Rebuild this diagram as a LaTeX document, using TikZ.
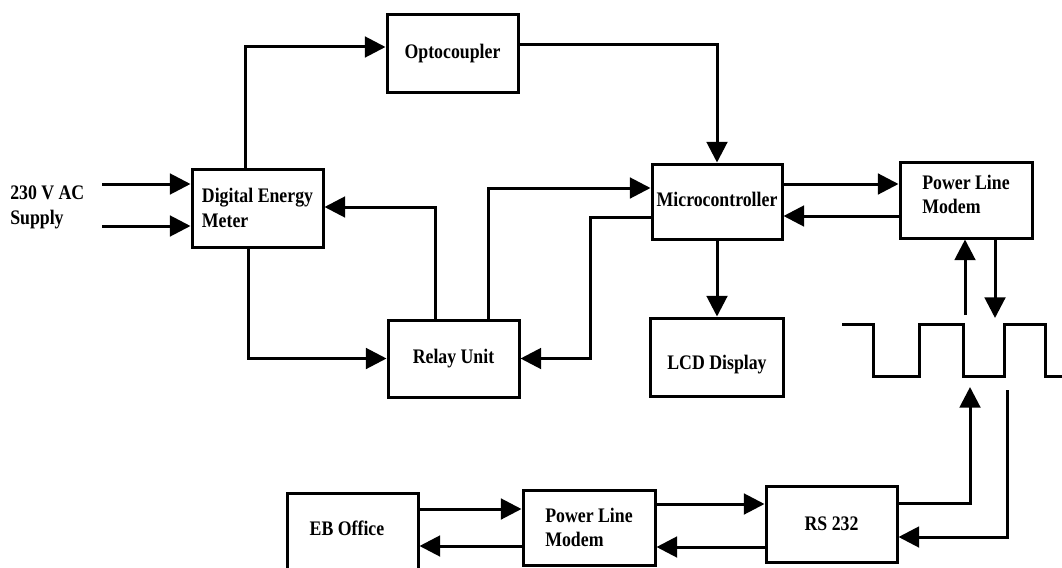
\documentclass[tikz,border=0pt]{standalone}
\usepackage{fontspec}
\newfontfamily\dgmfamily[FakeStretch=0.86]{Liberation Serif}
\newcommand\dgmfont{\dgmfamily\bfseries\fontsize{15.5}{18.4}\selectfont}
\usetikzlibrary{arrows.meta}
\def\pxu{0.75pt}
\begin{document}
\begin{tikzpicture}[x=0.75pt,y=-0.75pt,
  box/.style={draw, line width=2.25pt, inner sep=0pt, font=\dgmfont, align=center},
  lbl/.style={font=\dgmfont, inner sep=0pt},
  arr/.style={line width=2.25pt, -{Triangle[length=15.5pt,width=15.5pt]}},
  wave/.style={line width=2.25pt}]
\useasboundingbox (0,0) rectangle (1062,567);

% blocks
\node[box, minimum width=131*\pxu, minimum height=77*\pxu] (opto) at (452.5,53.5) {Optocoupler};
\node[box, align=left, minimum width=131*\pxu, minimum height=78*\pxu] (dem) at (257.5,208) {Digital Energy\\Meter};
\node[box, minimum width=130*\pxu, minimum height=75*\pxu] (micro) at (717,201.5) {\raisebox{1.5pt}[\height][\depth]{Microcontroller}};
\node[box, minimum width=132*\pxu, minimum height=76*\pxu] (plm) at (966,200) {\raisebox{2.5pt}[\height][\depth]{\begin{tabular}{@{}l@{}}Power Line\\Modem\end{tabular}}};
\node[box, minimum width=131*\pxu, minimum height=77*\pxu] (relay) at (453.5,358.5) {Relay Unit};
\node[box, minimum width=133*\pxu, minimum height=78*\pxu] (lcd) at (717,357) {\raisebox{-5.5pt}[\height][\depth]{LCD Display}};
\node[box, minimum width=131*\pxu, minimum height=87*\pxu] (eb) at (352.5,536.5) {};
\node[lbl] (ebtext) at (347,528) {EB Office};
\node[box, align=left, minimum width=132*\pxu, minimum height=75*\pxu] (plmb) at (589,527.5) {Power Line\\Modem};
\node[box, minimum width=131*\pxu, minimum height=76*\pxu] (rs) at (831.5,524) {RS 232};
\node[lbl, align=left, anchor=west] (supply) at (10,207.5) {230 V AC\\Supply};

% routing coordinates
\coordinate (in1) at (102,184);
\coordinate (in2) at (102,226);
\coordinate (k1) at (245,47);
\coordinate (k2) at (722,45);
\coordinate (k3) at (435,207);
\coordinate (k4) at (488,188);
\coordinate (k5) at (590,217);
\coordinate (k6) at (248,360);
\coordinate (k7) at (0,184);
\coordinate (k8) at (0,216);
\coordinate (w1) at (965,315);
\coordinate (w2) at (995,318);
\coordinate (w3) at (970,387);
\coordinate (w4) at (1007,390);
\coordinate (r1) at (0,503);
\coordinate (r2) at (0,537);
\coordinate (b1) at (0,509);
\coordinate (b2) at (0,546);
\coordinate (b3) at (0,504);
\coordinate (b4) at (0,547);

% connectors
\draw[arr] (in1) -- (in1 -| dem.west);
\draw[arr] (in2) -- (in2 -| dem.west);
\draw[arr] (dem.north -| k1) |- (opto.west |- k1);
\draw[arr] (opto.east |- k2) -| (micro.north);
\draw[arr] (relay.north -| k3) |- (dem.east |- k3);
\draw[arr] (relay.north -| k4) |- (micro.west |- k4);
\draw[arr] (micro.west |- k5) -- (k5) |- (relay.east);
\draw[arr] (dem.south -| k6) |- (relay.west);
\draw[arr] (micro.east |- k7) -- (plm.west |- k7);
\draw[arr] (plm.west |- k8) -- (micro.east |- k8);
\draw[arr] (micro.south) -- (lcd.north);
\draw[arr] (w1) -- (w1 |- plm.south);
\draw[arr] (plm.south -| w2) -- (w2);
\draw[arr] (rs.east |- r1) -| (w3);
\draw[arr] (w4) |- (rs.east |- r2);
\draw[arr] (eb.east |- b1) -- (plmb.west |- b1);
\draw[arr] (plmb.west |- b2) -- (eb.east |- b2);
\draw[arr] (plmb.east |- b3) -- (rs.west |- b3);
\draw[arr] (rs.west |- b4) -- (plmb.east |- b4);

% square wave
\draw[wave] (842,324) -| (873,376) -| (919,324) -| (963,376) -| (1004,324) -| (1045,376) -- (1064,376);
\end{tikzpicture}
\end{document}
